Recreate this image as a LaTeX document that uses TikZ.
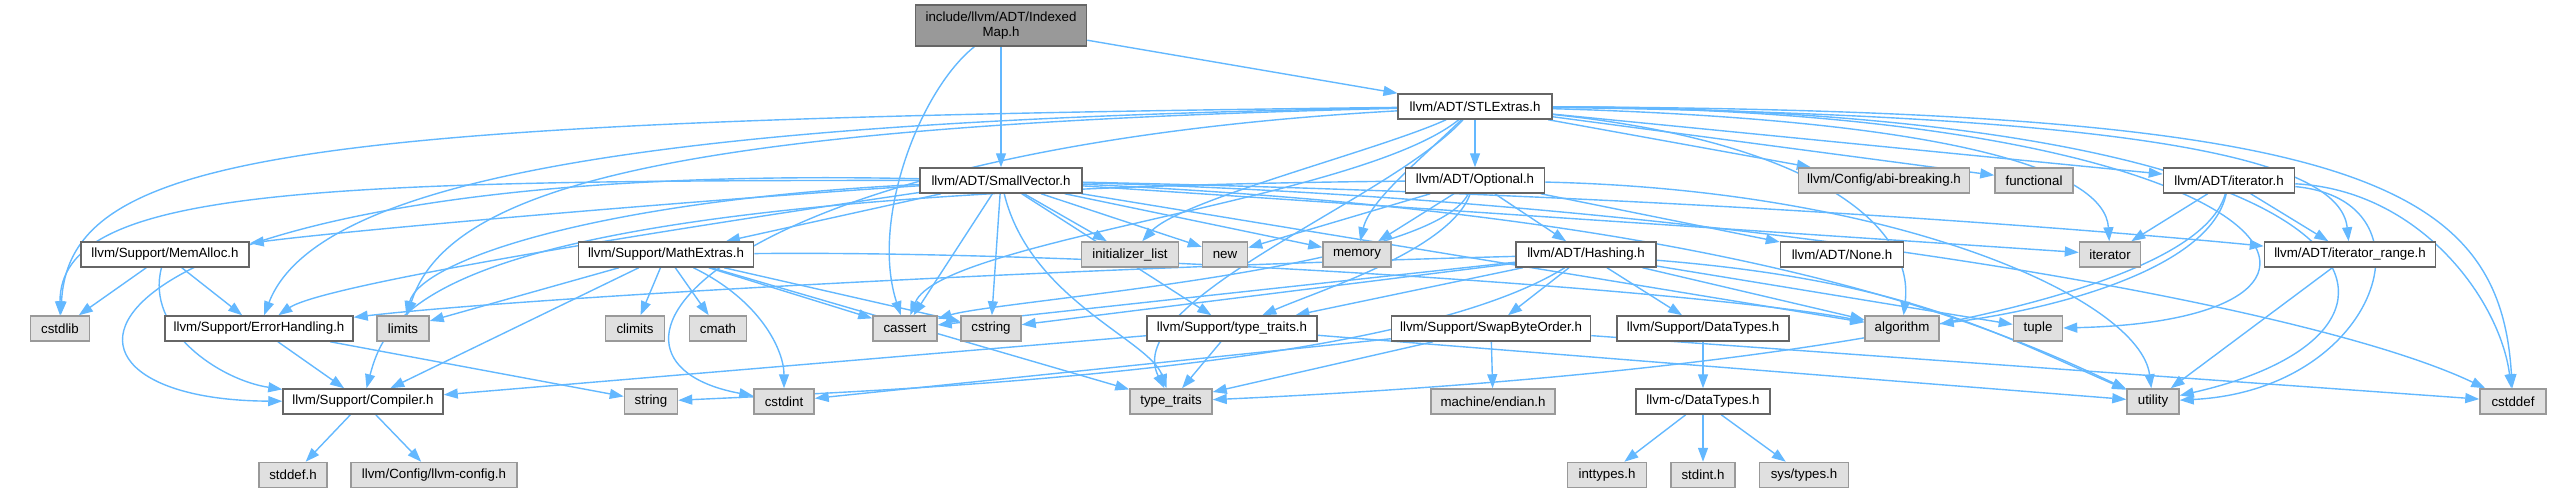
\documentclass[tikz,border=0pt]{standalone}
\usepackage{fontspec}
\setmainfont{Liberation Sans}
\usetikzlibrary{arrows.meta}
\definecolor{edgecol}{HTML}{63B8FF}
\definecolor{boxborder}{HTML}{666666}
\definecolor{extborder}{HTML}{999999}
\definecolor{extfill}{HTML}{E0E0E0}
\definecolor{imfill}{HTML}{999999}
\newcommand\nfont{\fontsize{13.3}{14.5}\selectfont}
\pgfdeclarelayer{edgelayer}
\pgfsetlayers{edgelayer,main}
\tikzset{
  box/.style={draw=boxborder, fill=white, line width=1.5pt, minimum height=25pt, inner sep=0pt, font=\nfont, text=black},
  ext/.style={box, draw=extborder, fill=extfill},
  dep/.style={draw=edgecol, line width=1.4pt, -{Triangle[length=14pt,width=10pt]}},
}
\begin{document}
\begin{tikzpicture}[x=1pt,y=-1pt]
\useasboundingbox (0,0) rectangle (2550,493);
% row 0
\node[box, fill=imfill, minimum width=171pt, minimum height=41pt, align=center] (im) at (1001,25.5) {include/llvm/ADT/Indexed\\Map.h};
% row 1
\node[box, minimum width=154pt] (stl) at (1475,106.5) {llvm/ADT/STLExtras.h};
% row 2
\node[box, minimum width=162pt] (sv) at (1001,180.5) {llvm/ADT/SmallVector.h};
\node[box, minimum width=139pt] (opt) at (1475,180.5) {llvm/ADT/Optional.h};
\node[ext, minimum width=171pt] (abi) at (1884,180.5) {llvm/Config/abi-breaking.h};
\node[ext, minimum width=78pt] (func) at (2034,180.5) {functional};
\node[box, minimum width=131pt] (ith) at (2229,180.5) {llvm/ADT/iterator.h};
% row 3
\node[box, minimum width=168pt] (mem) at (165,254.5) {llvm/Support/MemAlloc.h};
\node[box, minimum width=175pt] (math) at (666,254.5) {llvm/Support/MathExtras.h};
\node[ext, minimum width=97pt] (il) at (1130,254.5) {initializer\_list};
\node[ext, minimum width=45pt] (new) at (1225,254.5) {new};
\node[ext, minimum width=68pt] (memory) at (1357,254.5) {memory};
\node[box, minimum width=140pt] (hash) at (1586,254.5) {llvm/ADT/Hashing.h};
\node[box, minimum width=123pt] (none) at (1842,254.5) {llvm/ADT/None.h};
\node[ext, minimum width=61pt] (iter) at (2110,254.5) {iterator};
\node[box, minimum width=171pt] (itr) at (2350,254.5) {llvm/ADT/iterator\_range.h};
% row 4
\node[ext, minimum width=59pt] (cstdlib) at (60,328.5) {cstdlib};
\node[box, minimum width=188pt] (err) at (259,328.5) {llvm/Support/ErrorHandling.h};
\node[ext, minimum width=52pt] (limits) at (403,328.5) {limits};
\node[ext, minimum width=59pt] (climits) at (635,328.5) {climits};
\node[ext, minimum width=57pt] (cmath) at (718,328.5) {cmath};
\node[ext, minimum width=64pt] (cassert) at (905,328.5) {cassert};
\node[ext, minimum width=60pt] (cstring) at (991,328.5) {cstring};
\node[box, minimum width=170pt] (tth) at (1232,328.5) {llvm/Support/type\_traits.h};
\node[box, minimum width=199pt] (swap) at (1491,328.5) {llvm/Support/SwapByteOrder.h};
\node[box, minimum width=172pt] (dt) at (1703,328.5) {llvm/Support/DataTypes.h};
\node[ext, minimum width=74pt] (algo) at (1902,328.5) {algorithm};
\node[ext, minimum width=49pt] (tuple) at (2038,328.5) {tuple};
% row 5
\node[box, minimum width=160pt] (comp) at (363,401.5) {llvm/Support/Compiler.h};
\node[ext, minimum width=53pt] (string) at (651,401.5) {string};
\node[ext, minimum width=60pt] (cstdint) at (784,401.5) {cstdint};
\node[ext, minimum width=82pt] (tt) at (1171,401.5) {type\_traits};
\node[ext, minimum width=124pt] (endian) at (1493,401.5) {machine/endian.h};
\node[box, minimum width=134pt] (cdt) at (1703,401.5) {llvm-c/DataTypes.h};
\node[ext, minimum width=52pt] (utility) at (2153,401.5) {utility};
\node[ext, minimum width=66pt] (cstddef) at (2513,401.5) {cstddef};
% row 6
\node[ext, minimum width=68pt] (stddef) at (293,475) {stddef.h};
\node[ext, minimum width=166pt] (cfg) at (434,475) {llvm/Config/llvm-config.h};
\node[ext, minimum width=79pt] (inttypes) at (1607,475) {inttypes.h};
\node[ext, minimum width=64pt] (stdint) at (1703,475) {stdint.h};
\node[ext, minimum width=89pt] (systypes) at (1804,475) {sys/types.h};

\begin{pgfonlayer}{edgelayer}
% IndexedMap
\draw[dep] (im) -- (stl);
\draw[dep] (im) -- (sv);
\draw[dep] (im) .. controls (920,90) and (870,220) .. (cassert);
% STLExtras
\draw[dep] (stl) -- (opt);
\draw[dep] (stl) -- (abi);
\draw[dep] (stl) -- (func);
\draw[dep] (stl) -- (ith);
\draw[dep] (stl) .. controls (1950,120) and (2105,170) .. (iter);
\draw[dep] (stl) .. controls (2150,115) and (2340,160) .. (itr);
\draw[dep] (stl) .. controls (2350,110) and (2500,180) .. (cstddef);
\draw[dep] (stl) .. controls (2400,110) and (2470,330) .. (utility);
\draw[dep] (stl) .. controls (2300,110) and (2420,320) .. (tuple);
\draw[dep] (stl) .. controls (1800,140) and (1915,220) .. (algo);
\draw[dep] (stl) .. controls (1420,160) and (1370,200) .. (memory);
\draw[dep] (stl) .. controls (1380,150) and (1180,200) .. (il);
\draw[dep] (stl) .. controls (1360,200) and (940,240) .. (cassert);
\draw[dep] (stl) .. controls (1390,200) and (1120,300) .. (tt);
\draw[dep] (stl) .. controls (700,125) and (450,180) .. (limits);
\draw[dep] (stl) .. controls (700,120) and (320,170) .. (err);
\draw[dep] (stl) .. controls (300,120) and (70,150) .. (cstdlib);
\draw[dep] (stl) .. controls (700,150) and (560,360) .. (cstdint);
% SmallVector
\draw[dep] (sv) -- (il);
\draw[dep] (sv) -- (new);
\draw[dep] (sv) -- (memory);
\draw[dep] (sv) -- (cassert);
\draw[dep] (sv) -- (cstring);
\draw[dep] (sv) .. controls (1030,300) and (1150,340) .. (tt);
\draw[dep] (sv) -- (tth);
\draw[dep] (sv) .. controls (700,200) and (350,230) .. (mem);
\draw[dep] (sv) -- (math);
\draw[dep] (sv) .. controls (800,210) and (330,280) .. (err);
\draw[dep] (sv) .. controls (60,160) and (-10,400) .. (comp);
\draw[dep] (sv) .. controls (300,180) and (60,190) .. (cstdlib);
\draw[dep] (sv) .. controls (600,200) and (420,260) .. (limits);
\draw[dep] (sv) -- (iter);
\draw[dep] (sv) .. controls (1700,195) and (2150,235) .. (itr);
\draw[dep] (sv) -- (algo);
\draw[dep] (sv) .. controls (1700,200) and (2300,300) .. (cstddef);
\draw[dep] (sv) .. controls (1750,215) and (2000,330) .. (utility);
% Optional
\draw[dep] (opt) -- (hash);
\draw[dep] (opt) -- (none);
\draw[dep] (opt) -- (new);
\draw[dep] (opt) -- (memory);
\draw[dep] (opt) .. controls (1450,250) and (1320,290) .. (tth);
\draw[dep] (opt) .. controls (1430,270) and (1000,300) .. (cassert);
\draw[dep] (opt) .. controls (1900,190) and (2140,300) .. (utility);
\draw[dep] (opt) .. controls (450,190) and (390,300) .. (comp);
% Hashing
\draw[dep] (hash) -- (swap);
\draw[dep] (hash) -- (dt);
\draw[dep] (hash) -- (tth);
\draw[dep] (hash) .. controls (1000,270) and (500,300) .. (err);
\draw[dep] (hash) -- (cassert);
\draw[dep] (hash) -- (cstring);
\draw[dep] (hash) .. controls (1400,370) and (900,390) .. (string);
\draw[dep] (hash) -- (algo);
\draw[dep] (hash) -- (tuple);
\draw[dep] (hash) .. controls (1900,280) and (1990,330) .. (utility);
% MathExtras
\draw[dep] (math) -- (comp);
\draw[dep] (math) -- (limits);
\draw[dep] (math) -- (climits);
\draw[dep] (math) -- (cmath);
\draw[dep] (math) .. controls (760,300) and (784,350) .. (cstdint);
\draw[dep] (math) -- (cassert);
\draw[dep] (math) -- (cstring);
\draw[dep] (math) -- (tt);
\draw[dep] (math) .. controls (1100,250) and (1700,290) .. (algo);
% MemAlloc
\draw[dep] (mem) -- (cstdlib);
\draw[dep] (mem) -- (err);
\draw[dep] (mem) .. controls (145,330) and (220,380) .. (comp);
% ErrorHandling, Compiler
\draw[dep] (err) -- (comp);
\draw[dep] (err) -- (string);
\draw[dep] (comp) -- (stddef);
\draw[dep] (comp) -- (cfg);
% type_traits.h
\draw[dep] (tth) -- (comp);
\draw[dep] (tth) -- (tt);
\draw[dep] (tth) -- (utility);
% SwapByteOrder
\draw[dep] (swap) -- (endian);
\draw[dep] (swap) -- (tt);
\draw[dep] (swap) -- (cstdint);
\draw[dep] (swap) -- (cstddef);
% DataTypes
\draw[dep] (dt) -- (cdt);
\draw[dep] (cdt) -- (inttypes);
\draw[dep] (cdt) -- (stdint);
\draw[dep] (cdt) -- (systypes);
% iterator.h
\draw[dep] (ith) -- (iter);
\draw[dep] (ith) -- (itr);
\draw[dep] (ith) .. controls (2210,270) and (2050,310) .. (algo);
\draw[dep] (ith) .. controls (2190,320) and (1650,380) .. (tt);
\draw[dep] (ith) .. controls (2420,190) and (2500,300) .. (cstddef);
\draw[dep] (ith) .. controls (2440,200) and (2380,390) .. (utility);
% iterator_range
\draw[dep] (itr) -- (utility);
\end{pgfonlayer}
\end{tikzpicture}
\end{document}
